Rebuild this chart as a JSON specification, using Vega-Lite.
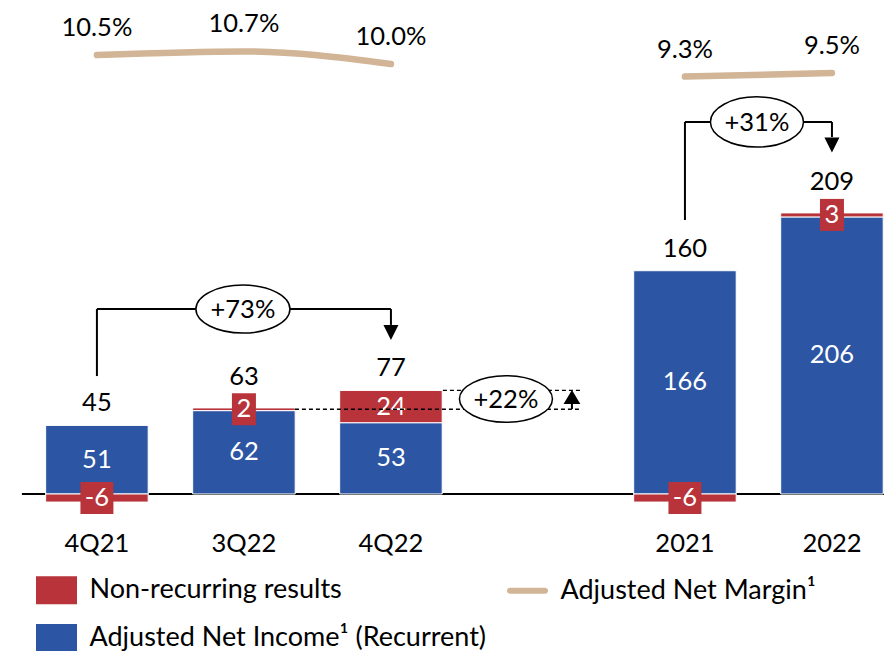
{
  "$schema": "https://vega.github.io/schema/vega-lite/v6.json",
  "width": 884,
  "height": 651,
  "padding": 0,
  "autosize": {"type": "none"},
  "background": "white",
  "config": {
    "view": {"stroke": null},
    "font": "Lato",
    "axisY": {"disable": true},
    "legend": {
      "orient": "none", "legendX": 36, "legendY": 569.5, "direction": "horizontal", "columns": 2, "columnPadding": 20, "rowPadding": 13,
      "symbolSize": 1681, "symbolStrokeWidth": 0, "symbolOpacity": 1, "labelFont": "Lato", "labelFontSize": 27,
      "labelColor": "#000000", "labelOffset": 12.5, "labelLimit": 800, "padding": 0
    }
  },
  "datasets": {
    "bars": [
      {"period": "4Q21", "series": "Adjusted Net Income¹ (Recurrent)", "value": 51, "ord": 1},
      {"period": "4Q21", "series": "Non-recurring results", "value": -6, "ord": 2},
      {"period": "3Q22", "series": "Adjusted Net Income¹ (Recurrent)", "value": 62, "ord": 1},
      {"period": "3Q22", "series": "Non-recurring results", "value": 2, "ord": 2},
      {"period": "4Q22", "series": "Adjusted Net Income¹ (Recurrent)", "value": 53, "ord": 1},
      {"period": "4Q22", "series": "Non-recurring results", "value": 24, "ord": 2},
      {"period": "2021", "series": "Adjusted Net Income¹ (Recurrent)", "value": 166, "ord": 1},
      {"period": "2021", "series": "Non-recurring results", "value": -6, "ord": 2},
      {"period": "2022", "series": "Adjusted Net Income¹ (Recurrent)", "value": 206, "ord": 1},
      {"period": "2022", "series": "Non-recurring results", "value": 3, "ord": 2}
    ],
    "summary": [
      {"period": "4Q21", "total": 45, "margin": 0.105, "grp": "quarter"},
      {"period": "3Q22", "total": 63, "margin": 0.107, "grp": "quarter"},
      {"period": "4Q22", "total": 77, "margin": 0.100, "grp": "quarter"},
      {"period": "2021", "total": 160, "margin": 0.093, "grp": "year"},
      {"period": "2022", "total": 209, "margin": 0.095, "grp": "year"}
    ]
  },
  "layer": [
    {
      "layer": [
        {
          "data": {"values": [{}]},
          "mark": {"type": "rule", "color": "#000000", "strokeWidth": 2, "xOffset": -75, "x2Offset": 52},
          "encoding": {
            "x": {"datum": "4Q21", "type": "nominal", "scale": {"type": "band", "domain": ["4Q21", "3Q22", "4Q22", " ", "2021", "2022"], "paddingInner": 0.3027, "paddingOuter": 0.158, "align": 0.983}},
            "x2": {"datum": "2022"},
            "y": {"datum": 0, "type": "quantitative", "scale": {"domain": [-116.73, 367.29], "nice": false, "zero": false}}
          }
        },
        {
          "data": {"name": "bars"},
          "mark": {"type": "bar", "stroke": "white", "strokeWidth": 1},
          "encoding": {
            "x": {"field": "period", "type": "nominal", "scale": {"type": "band", "domain": ["4Q21", "3Q22", "4Q22", " ", "2021", "2022"], "paddingInner": 0.3027, "paddingOuter": 0.158, "align": 0.983},
                  "axis": {"title": null, "orient": "bottom", "offset": -108, "domain": false, "ticks": false, "labelPadding": 0, "labelBaseline": "middle", "labelAlign": "center", "labelFont": "Lato", "labelFontSize": 25.5, "labelColor": "#000000", "labelAngle": 0}},
            "y": {"field": "value", "type": "quantitative", "stack": "zero", "scale": {"domain": [-116.73, 367.29], "nice": false, "zero": false}},
            "color": {"field": "series", "type": "nominal", "title": null,
                      "scale": {"domain": ["Non-recurring results", "Adjusted Net Margin¹", "Adjusted Net Income¹ (Recurrent)"], "range": ["#B8333A", "#D1B596", "#2C55A3"]}},
            "order": {"field": "ord", "type": "quantitative"}
          }
        },
        {
          "data": {"name": "bars"},
          "mark": {"type": "point", "filled": true, "color": "#B8333A", "size": 1024, "strokeWidth": 0},
          "encoding": {
            "x": {"field": "period", "type": "nominal", "scale": {"type": "band", "domain": ["4Q21", "3Q22", "4Q22", " ", "2021", "2022"], "paddingInner": 0.3027, "paddingOuter": 0.158, "align": 0.983},
                  "axis": {"title": null, "orient": "bottom", "offset": -108, "domain": false, "ticks": false, "labelPadding": 0, "labelBaseline": "middle", "labelAlign": "center", "labelFont": "Lato", "labelFontSize": 25.5, "labelColor": "#000000", "labelAngle": 0}},
            "y": {"field": "value", "type": "quantitative", "stack": "zero", "bandPosition": 0.5, "scale": {"domain": [-116.73, 367.29], "nice": false, "zero": false}},
            "order": {"field": "ord", "type": "quantitative"},
            "shape": {"condition": {"test": "datum.value < 0", "value": "M-1.03,-1H1.03V1H-1.03Z"}, "value": "M-0.75,-1H0.75V1H-0.75Z"},
            "opacity": {"condition": {"test": "datum.series === 'Non-recurring results' && abs(datum.value) < 10", "value": 1}, "value": 0}
          }
        },
        {
          "data": {"name": "bars"},
          "mark": {"type": "text", "color": "#FFFFFF", "font": "Lato", "fontSize": 25.5, "baseline": "middle", "align": "center"},
          "encoding": {
            "x": {"field": "period", "type": "nominal", "scale": {"type": "band", "domain": ["4Q21", "3Q22", "4Q22", " ", "2021", "2022"], "paddingInner": 0.3027, "paddingOuter": 0.158, "align": 0.983},
                  "axis": {"title": null, "orient": "bottom", "offset": -108, "domain": false, "ticks": false, "labelPadding": 0, "labelBaseline": "middle", "labelAlign": "center", "labelFont": "Lato", "labelFontSize": 25.5, "labelColor": "#000000", "labelAngle": 0}},
            "y": {"field": "value", "type": "quantitative", "stack": "zero", "bandPosition": 0.5, "scale": {"domain": [-116.73, 367.29], "nice": false, "zero": false}},
            "order": {"field": "ord", "type": "quantitative"},
            "text": {"field": "value", "type": "nominal"}
          }
        },
        {
          "data": {"name": "bars"},
          "transform": [
            {"filter": "datum.value > 0"},
            {"aggregate": [{"op": "sum", "field": "value", "as": "top"}], "groupby": ["period"]},
            {"lookup": "period", "from": {"data": {"name": "summary"}, "key": "period", "fields": ["total"]}},
            {"filter": "datum.period !== '3Q22' && datum.period !== '2022'"}
          ],
          "mark": {"type": "text", "color": "#000000", "font": "Lato", "fontSize": 25.5, "baseline": "middle", "align": "center", "dy": -22},
          "encoding": {
            "x": {"field": "period", "type": "nominal", "scale": {"type": "band", "domain": ["4Q21", "3Q22", "4Q22", " ", "2021", "2022"], "paddingInner": 0.3027, "paddingOuter": 0.158, "align": 0.983},
                  "axis": {"title": null, "orient": "bottom", "offset": -108, "domain": false, "ticks": false, "labelPadding": 0, "labelBaseline": "middle", "labelAlign": "center", "labelFont": "Lato", "labelFontSize": 25.5, "labelColor": "#000000", "labelAngle": 0}},
            "y": {"field": "top", "type": "quantitative", "scale": {"domain": [-116.73, 367.29], "nice": false, "zero": false}},
            "text": {"field": "total", "type": "quantitative"}
          }
        },
        {
          "data": {"name": "bars"},
          "transform": [
            {"filter": "datum.value > 0"},
            {"aggregate": [{"op": "sum", "field": "value", "as": "top"}], "groupby": ["period"]},
            {"lookup": "period", "from": {"data": {"name": "summary"}, "key": "period", "fields": ["total"]}},
            {"filter": "datum.period === '3Q22' || datum.period === '2022'"}
          ],
          "mark": {"type": "text", "color": "#000000", "font": "Lato", "fontSize": 25.5, "baseline": "middle", "align": "center", "dy": -31},
          "encoding": {
            "x": {"field": "period", "type": "nominal", "scale": {"type": "band", "domain": ["4Q21", "3Q22", "4Q22", " ", "2021", "2022"], "paddingInner": 0.3027, "paddingOuter": 0.158, "align": 0.983},
                  "axis": {"title": null, "orient": "bottom", "offset": -108, "domain": false, "ticks": false, "labelPadding": 0, "labelBaseline": "middle", "labelAlign": "center", "labelFont": "Lato", "labelFontSize": 25.5, "labelColor": "#000000", "labelAngle": 0}},
            "y": {"field": "top", "type": "quantitative", "scale": {"domain": [-116.73, 367.29], "nice": false, "zero": false}},
            "text": {"field": "total", "type": "quantitative"}
          }
        },
        {
          "data": {"values": [{}]},
          "mark": {"type": "rule", "color": "#000000", "strokeWidth": 2},
          "encoding": {
            "x": {"datum": "4Q21", "type": "nominal", "scale": {"type": "band", "domain": ["4Q21", "3Q22", "4Q22", " ", "2021", "2022"], "paddingInner": 0.3027, "paddingOuter": 0.158, "align": 0.983}},
            "y": {"datum": 87.7, "type": "quantitative", "scale": {"domain": [-116.73, 367.29], "nice": false, "zero": false}},
            "y2": {"datum": 137.5}
          }
        },
        {
          "data": {"values": [{}]},
          "mark": {"type": "rule", "color": "#000000", "strokeWidth": 2},
          "encoding": {
            "x": {"datum": "4Q21", "type": "nominal", "scale": {"type": "band", "domain": ["4Q21", "3Q22", "4Q22", " ", "2021", "2022"], "paddingInner": 0.3027, "paddingOuter": 0.158, "align": 0.983}},
            "x2": {"datum": "4Q22"},
            "y": {"datum": 137.5, "type": "quantitative", "scale": {"domain": [-116.73, 367.29], "nice": false, "zero": false}}
          }
        },
        {
          "data": {"values": [{}]},
          "mark": {"type": "rule", "color": "#000000", "strokeWidth": 2},
          "encoding": {
            "x": {"datum": "4Q22", "type": "nominal", "scale": {"type": "band", "domain": ["4Q21", "3Q22", "4Q22", " ", "2021", "2022"], "paddingInner": 0.3027, "paddingOuter": 0.158, "align": 0.983}},
            "y": {"datum": 137.5, "type": "quantitative", "scale": {"domain": [-116.73, 367.29], "nice": false, "zero": false}},
            "y2": {"datum": 125.7}
          }
        },
        {
          "data": {"values": [{}]},
          "mark": {"type": "rule", "color": "#000000", "strokeWidth": 2},
          "encoding": {
            "x": {"datum": "2021", "type": "nominal", "scale": {"type": "band", "domain": ["4Q21", "3Q22", "4Q22", " ", "2021", "2022"], "paddingInner": 0.3027, "paddingOuter": 0.158, "align": 0.983}},
            "y": {"datum": 203.7, "type": "quantitative", "scale": {"domain": [-116.73, 367.29], "nice": false, "zero": false}},
            "y2": {"datum": 276.6}
          }
        },
        {
          "data": {"values": [{}]},
          "mark": {"type": "rule", "color": "#000000", "strokeWidth": 2},
          "encoding": {
            "x": {"datum": "2021", "type": "nominal", "scale": {"type": "band", "domain": ["4Q21", "3Q22", "4Q22", " ", "2021", "2022"], "paddingInner": 0.3027, "paddingOuter": 0.158, "align": 0.983}},
            "x2": {"datum": "2022"},
            "y": {"datum": 276.6, "type": "quantitative", "scale": {"domain": [-116.73, 367.29], "nice": false, "zero": false}}
          }
        },
        {
          "data": {"values": [{}]},
          "mark": {"type": "rule", "color": "#000000", "strokeWidth": 2},
          "encoding": {
            "x": {"datum": "2022", "type": "nominal", "scale": {"type": "band", "domain": ["4Q21", "3Q22", "4Q22", " ", "2021", "2022"], "paddingInner": 0.3027, "paddingOuter": 0.158, "align": 0.983}},
            "y": {"datum": 276.6, "type": "quantitative", "scale": {"domain": [-116.73, 367.29], "nice": false, "zero": false}},
            "y2": {"datum": 265.4}
          }
        },
        {
          "data": {"values": [{}]},
          "mark": {"type": "rule", "color": "#000000", "strokeWidth": 1.3, "strokeDash": [4, 3], "xOffset": 51, "x2Offset": 42},
          "encoding": {
            "x": {"datum": "3Q22", "type": "nominal", "scale": {"type": "band", "domain": ["4Q21", "3Q22", "4Q22", " ", "2021", "2022"], "paddingInner": 0.3027, "paddingOuter": 0.158, "align": 0.983}},
            "x2": {"datum": " "},
            "y": {"datum": 63, "type": "quantitative", "scale": {"domain": [-116.73, 367.29], "nice": false, "zero": false}}
          }
        },
        {
          "data": {"values": [{}]},
          "mark": {"type": "rule", "color": "#000000", "strokeWidth": 1.3, "strokeDash": [4, 3], "xOffset": 52, "x2Offset": 42},
          "encoding": {
            "x": {"datum": "4Q22", "type": "nominal", "scale": {"type": "band", "domain": ["4Q21", "3Q22", "4Q22", " ", "2021", "2022"], "paddingInner": 0.3027, "paddingOuter": 0.158, "align": 0.983}},
            "x2": {"datum": " "},
            "y": {"datum": 77, "type": "quantitative", "scale": {"domain": [-116.73, 367.29], "nice": false, "zero": false}}
          }
        },
        {
          "data": {"values": [{}]},
          "mark": {"type": "rule", "color": "#000000", "strokeWidth": 2, "xOffset": 34},
          "encoding": {
            "x": {"datum": " ", "type": "nominal", "scale": {"type": "band", "domain": ["4Q21", "3Q22", "4Q22", " ", "2021", "2022"], "paddingInner": 0.3027, "paddingOuter": 0.158, "align": 0.983}},
            "y": {"datum": 63.2, "type": "quantitative", "scale": {"domain": [-116.73, 367.29], "nice": false, "zero": false}},
            "y2": {"datum": 67.5}
          }
        },
        {
          "data": {"values": [{}]},
          "mark": {"type": "point", "filled": false, "fill": "#FFFFFF", "fillOpacity": 1, "stroke": "#000000", "strokeWidth": 1.5, "opacity": 1, "size": 8836,
                   "shape": "M-1,0C-1,-0.282,-0.552,-0.51,0,-0.51C0.552,-0.51,1,-0.282,1,0C1,0.282,0.552,0.51,0,0.51C-0.552,0.51,-1,0.282,-1,0Z", "xOffset": -1},
          "encoding": {
            "x": {"datum": "3Q22", "type": "nominal", "scale": {"type": "band", "domain": ["4Q21", "3Q22", "4Q22", " ", "2021", "2022"], "paddingInner": 0.3027, "paddingOuter": 0.158, "align": 0.983}},
            "y": {"datum": 137.5, "type": "quantitative", "scale": {"domain": [-116.73, 367.29], "nice": false, "zero": false}}
          }
        },
        {
          "data": {"values": [{}]},
          "mark": {"type": "point", "filled": false, "fill": "#FFFFFF", "fillOpacity": 1, "stroke": "#000000", "strokeWidth": 1.5, "opacity": 1, "size": 8649,
                   "shape": "M-1,0C-1,-0.298,-0.552,-0.54,0,-0.54C0.552,-0.54,1,-0.298,1,0C1,0.298,0.552,0.54,0,0.54C-0.552,0.54,-1,0.298,-1,0Z", "xOffset": 72},
          "encoding": {
            "x": {"datum": "2021", "type": "nominal", "scale": {"type": "band", "domain": ["4Q21", "3Q22", "4Q22", " ", "2021", "2022"], "paddingInner": 0.3027, "paddingOuter": 0.158, "align": 0.983}},
            "y": {"datum": 276.6, "type": "quantitative", "scale": {"domain": [-116.73, 367.29], "nice": false, "zero": false}}
          }
        },
        {
          "data": {"values": [{}]},
          "mark": {"type": "point", "filled": false, "fill": "#FFFFFF", "fillOpacity": 1, "stroke": "#000000", "strokeWidth": 1.5, "opacity": 1, "size": 8649,
                   "shape": "M-1,0C-1,-0.276,-0.552,-0.5,0,-0.5C0.552,-0.5,1,-0.276,1,0C1,0.276,0.552,0.5,0,0.5C-0.552,0.5,-1,0.276,-1,0Z", "xOffset": -32},
          "encoding": {
            "x": {"datum": " ", "type": "nominal", "scale": {"type": "band", "domain": ["4Q21", "3Q22", "4Q22", " ", "2021", "2022"], "paddingInner": 0.3027, "paddingOuter": 0.158, "align": 0.983}},
            "y": {"datum": 70.6, "type": "quantitative", "scale": {"domain": [-116.73, 367.29], "nice": false, "zero": false}}
          }
        },
        {
          "data": {"values": [{}]},
          "mark": {"type": "text", "text": "+73%", "color": "#000000", "font": "Lato", "fontSize": 25.5, "baseline": "middle", "align": "center", "xOffset": -1, "dy": 1},
          "encoding": {
            "x": {"datum": "3Q22", "type": "nominal", "scale": {"type": "band", "domain": ["4Q21", "3Q22", "4Q22", " ", "2021", "2022"], "paddingInner": 0.3027, "paddingOuter": 0.158, "align": 0.983}},
            "y": {"datum": 137.5, "type": "quantitative", "scale": {"domain": [-116.73, 367.29], "nice": false, "zero": false}}
          }
        },
        {
          "data": {"values": [{}]},
          "mark": {"type": "text", "text": "+31%", "color": "#000000", "font": "Lato", "fontSize": 25.5, "baseline": "middle", "align": "center", "xOffset": 72, "dy": 1},
          "encoding": {
            "x": {"datum": "2021", "type": "nominal", "scale": {"type": "band", "domain": ["4Q21", "3Q22", "4Q22", " ", "2021", "2022"], "paddingInner": 0.3027, "paddingOuter": 0.158, "align": 0.983}},
            "y": {"datum": 276.6, "type": "quantitative", "scale": {"domain": [-116.73, 367.29], "nice": false, "zero": false}}
          }
        },
        {
          "data": {"values": [{}]},
          "mark": {"type": "text", "text": "+22%", "color": "#000000", "font": "Lato", "fontSize": 25.5, "baseline": "middle", "align": "center", "xOffset": -32, "dy": 1},
          "encoding": {
            "x": {"datum": " ", "type": "nominal", "scale": {"type": "band", "domain": ["4Q21", "3Q22", "4Q22", " ", "2021", "2022"], "paddingInner": 0.3027, "paddingOuter": 0.158, "align": 0.983}},
            "y": {"datum": 70.6, "type": "quantitative", "scale": {"domain": [-116.73, 367.29], "nice": false, "zero": false}}
          }
        },
        {
          "data": {"values": [{}]},
          "mark": {"type": "point", "filled": true, "color": "#000000", "opacity": 1, "size": 225, "shape": "M-1,-1L1,-1L0,1Z", "strokeWidth": 0},
          "encoding": {
            "x": {"datum": "4Q22", "type": "nominal", "scale": {"type": "band", "domain": ["4Q21", "3Q22", "4Q22", " ", "2021", "2022"], "paddingInner": 0.3027, "paddingOuter": 0.158, "align": 0.983}},
            "y": {"datum": 120.1, "type": "quantitative", "scale": {"domain": [-116.73, 367.29], "nice": false, "zero": false}}
          }
        },
        {
          "data": {"values": [{}]},
          "mark": {"type": "point", "filled": true, "color": "#000000", "opacity": 1, "size": 225, "shape": "M-1,-1L1,-1L0,1Z", "strokeWidth": 0},
          "encoding": {
            "x": {"datum": "2022", "type": "nominal", "scale": {"type": "band", "domain": ["4Q21", "3Q22", "4Q22", " ", "2021", "2022"], "paddingInner": 0.3027, "paddingOuter": 0.158, "align": 0.983}},
            "y": {"datum": 259.5, "type": "quantitative", "scale": {"domain": [-116.73, 367.29], "nice": false, "zero": false}}
          }
        },
        {
          "data": {"values": [{}]},
          "mark": {"type": "point", "filled": true, "color": "#000000", "opacity": 1, "size": 196, "shape": "M0,-1L1.2,1L-1.2,1Z", "strokeWidth": 0, "xOffset": 34},
          "encoding": {
            "x": {"datum": " ", "type": "nominal", "scale": {"type": "band", "domain": ["4Q21", "3Q22", "4Q22", " ", "2021", "2022"], "paddingInner": 0.3027, "paddingOuter": 0.158, "align": 0.983}},
            "y": {"datum": 72.1, "type": "quantitative", "scale": {"domain": [-116.73, 367.29], "nice": false, "zero": false}}
          }
        },
        {
          "data": {"name": "bars"},
          "mark": {"type": "point", "filled": true, "opacity": 0},
          "encoding": {
            "x": {"field": "period", "type": "nominal", "scale": {"type": "band", "domain": ["4Q21", "3Q22", "4Q22", " ", "2021", "2022"], "paddingInner": 0.3027, "paddingOuter": 0.158, "align": 0.983},
                  "axis": {"title": null, "orient": "bottom", "offset": -108, "domain": false, "ticks": false, "labelPadding": 0, "labelBaseline": "middle", "labelAlign": "center", "labelFont": "Lato", "labelFontSize": 25.5, "labelColor": "#000000", "labelAngle": 0}},
            "y": {"field": "value", "type": "quantitative", "scale": {"domain": [-116.73, 367.29], "nice": false, "zero": false}},
            "color": {"field": "series", "type": "nominal", "title": null,
                      "scale": {"domain": ["Non-recurring results", "Adjusted Net Margin¹", "Adjusted Net Income¹ (Recurrent)"], "range": ["#B8333A", "#D1B596", "#2C55A3"]}},
            "shape": {"field": "series", "type": "nominal", "title": null,
                      "scale": {"domain": ["Non-recurring results", "Adjusted Net Margin¹", "Adjusted Net Income¹ (Recurrent)"],
                                "range": ["M-1,-0.683H1V0.683H-1Z", "M-0.85,-0.146H0.85C0.95,-0.146,1,-0.08,1,0C1,0.08,0.95,0.146,0.85,0.146H-0.85C-0.95,0.146,-1,0.08,-1,0C-1,-0.08,-0.95,-0.146,-0.85,-0.146Z", "M-1,-0.683H1V0.683H-1Z"]}}
          }
        }
      ]
    },
    {
      "layer": [
        {
          "data": {"name": "summary"},
          "mark": {"type": "line", "color": "#D1B596", "strokeWidth": 6.5, "strokeCap": "round", "interpolate": "monotone"},
          "encoding": {
            "x": {"field": "period", "type": "nominal", "scale": {"type": "band", "domain": ["4Q21", "3Q22", "4Q22", " ", "2021", "2022"], "paddingInner": 0.3027, "paddingOuter": 0.158, "align": 0.983},
                  "axis": {"title": null, "orient": "bottom", "offset": -108, "domain": false, "ticks": false, "labelPadding": 0, "labelBaseline": "middle", "labelAlign": "center", "labelFont": "Lato", "labelFontSize": 25.5, "labelColor": "#000000", "labelAngle": 0}},
            "y": {"field": "margin", "type": "quantitative", "scale": {"domain": [-0.22611, 0.13556], "nice": false, "zero": false}},
            "detail": {"field": "grp", "type": "nominal"}
          }
        },
        {
          "data": {"name": "summary"},
          "mark": {"type": "text", "color": "#000000", "font": "Lato", "fontSize": 25.5, "baseline": "middle", "align": "center", "dy": -27},
          "encoding": {
            "x": {"field": "period", "type": "nominal", "scale": {"type": "band", "domain": ["4Q21", "3Q22", "4Q22", " ", "2021", "2022"], "paddingInner": 0.3027, "paddingOuter": 0.158, "align": 0.983},
                  "axis": {"title": null, "orient": "bottom", "offset": -108, "domain": false, "ticks": false, "labelPadding": 0, "labelBaseline": "middle", "labelAlign": "center", "labelFont": "Lato", "labelFontSize": 25.5, "labelColor": "#000000", "labelAngle": 0}},
            "y": {"field": "margin", "type": "quantitative", "scale": {"domain": [-0.22611, 0.13556], "nice": false, "zero": false}},
            "text": {"field": "margin", "type": "quantitative", "format": ".1%"}
          }
        }
      ]
    }
  ],
  "resolve": {"scale": {"y": "independent"}}
}
